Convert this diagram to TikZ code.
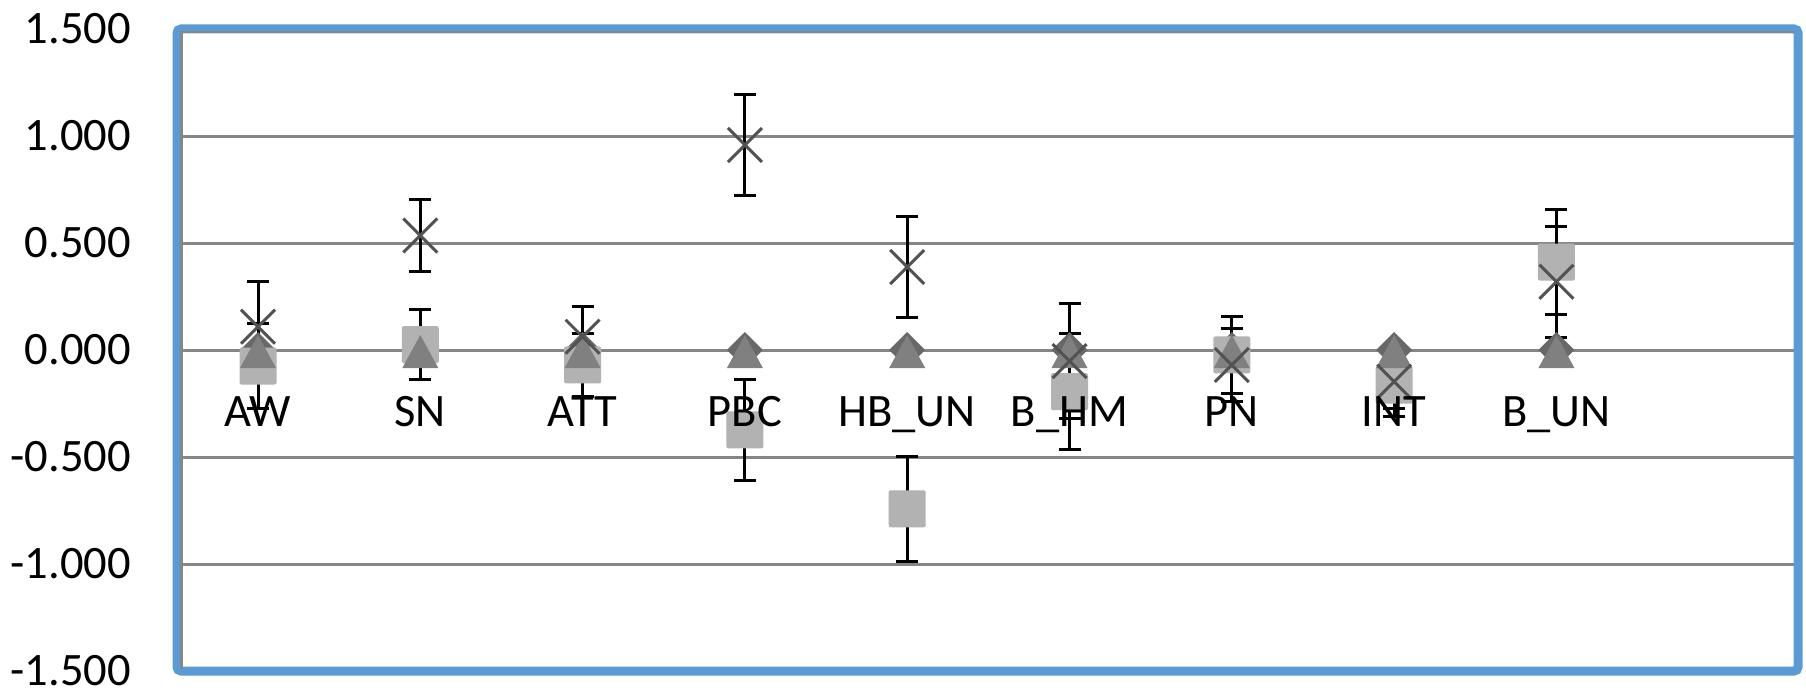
\documentclass[tikz,border=0pt]{standalone}
\usepackage{fontspec}
\setmainfont{Carlito}
\definecolor{frameblue}{RGB}{91,155,213}
\definecolor{gridgrey}{RGB}{134,134,134}
\definecolor{sqgrey}{RGB}{178,178,178}
\definecolor{trigrey}{RGB}{128,128,128}
\definecolor{diagrey}{RGB}{104,104,104}
\definecolor{xgrey}{RGB}{82,82,82}
\tikzset{
  gridline/.style={gridgrey, line width=3pt},
  errbar/.style={black, line width=3pt},
  xmark/.style={xgrey, line width=3pt},
  ylab/.style={anchor=east, inner sep=0pt, font=\fontsize{46.5}{52}\selectfont},
  catlab/.style={anchor=base, inner sep=0pt, font=\fontsize{46.5}{52}\selectfont},
}
\begin{document}
\begin{tikzpicture}[x=1pt, y=1pt]
\useasboundingbox (0,-693) rectangle (1806,0);
\fill[white] (0,-693) rectangle (1806,0);

% y axis labels
\node[ylab] (l1) at (131,-29)  {1.500};
\node[ylab] (l2) at (131,-136) {1.000};
\node[ylab] (l3) at (131,-243) {0.500};
\node[ylab] (l4) at (131,-350) {0.000};
\node[ylab] (l5) at (131,-457) {-0.500};
\node[ylab] (l6) at (131,-564) {-1.000};
\node[ylab] (l7) at (131,-671) {-1.500};

\begin{scope}[yshift=-350pt, y=214pt]
  % gridlines
  \foreach \v in {1,0.5,0,-0.5,-1}
    \draw[gridline] (181,\v) -- (1794,\v);

  % data: index / square / square err / cross / cross err
  \def\data{0/-0.075/0.2/0.109/0.21,
            1/0.025/0.165/0.535/0.17,
            2/-0.07/0.148/0.062/0.14,
            3/-0.373/0.237/0.958/0.237,
            4/-0.742/0.244/0.388/0.235,
            5/-0.195/0.272/-0.052/0.268,
            6/-0.023/0.179/-0.07/0.171,
            7/-0.164/0.109/-0.148/0.164,
            8/0.411/0.246/0.319/0.26}

  % error bars (behind markers)
  \foreach \n/\s/\se/\c/\ce in \data {
    \pgfmathsetmacro\cx{258+162.3*\n}
    \draw[errbar] (\cx,\s-\se) -- (\cx,\s+\se);
    \draw[errbar] (\cx-11,\s-\se) -- (\cx+11,\s-\se);
    \draw[errbar] (\cx-11,\s+\se) -- (\cx+11,\s+\se);
    \draw[errbar] (\cx,\c-\ce) -- (\cx,\c+\ce);
    \draw[errbar] (\cx-11,\c-\ce) -- (\cx+11,\c-\ce);
    \draw[errbar] (\cx-11,\c+\ce) -- (\cx+11,\c+\ce);
  }
  % markers
  \foreach \n/\s/\se/\c/\ce in \data {
    \pgfmathsetmacro\cx{258+162.3*\n}
    \coordinate (Z\n) at (\cx,0);
    \coordinate (S\n) at (\cx,\s);
    \coordinate (C\n) at (\cx,\c);
    % diamond (series 1)
    \fill[diagrey] ([shift={(0pt,18pt)}]Z\n) -- ([shift={(18pt,0pt)}]Z\n)
      -- ([shift={(0pt,-18pt)}]Z\n) -- ([shift={(-18pt,0pt)}]Z\n) -- cycle;
    % square (series 2)
    \fill[sqgrey, rounded corners=2pt] ([shift={(-18.5pt,-18.5pt)}]S\n) rectangle ([shift={(18.5pt,18.5pt)}]S\n);
    % triangle (series 3)
    \fill[trigrey] ([shift={(0pt,15pt)}]Z\n) -- ([shift={(18pt,-18pt)}]Z\n)
      -- ([shift={(-18pt,-18pt)}]Z\n) -- cycle;
    % cross (series 4)
    \draw[xmark] ([shift={(-17pt,-17pt)}]C\n) -- ([shift={(17pt,17pt)}]C\n);
    \draw[xmark] ([shift={(-17pt,17pt)}]C\n) -- ([shift={(17pt,-17pt)}]C\n);
  }
\end{scope}

% frame and axis
\draw[frameblue, line width=9pt, rounded corners=4pt] (177,-29) rectangle (1798,-671);
\draw[gridgrey, line width=2.5pt] (181.5,-669) -- (181.5,-32) -- (1794,-32);

% category labels
\node[catlab] (c0) at (258.0,-426.7) {AW};
\node[catlab] (c1) at (420.3,-426.7) {SN};
\node[catlab] (c2) at (582.6,-426.7) {ATT};
\node[catlab] (c3) at (744.9,-426.7) {PBC};
\node[catlab] (c4) at (907.2,-426.7) {HB\_UN};
\node[catlab] (c5) at (1069.5,-426.7) {B\_HM};
\node[catlab] (c6) at (1231.8,-426.7) {PN};
\node[catlab] (c7) at (1394.1,-426.7) {INT};
\node[catlab] (c8) at (1556.4,-426.7) {B\_UN};
\end{tikzpicture}
\end{document}
